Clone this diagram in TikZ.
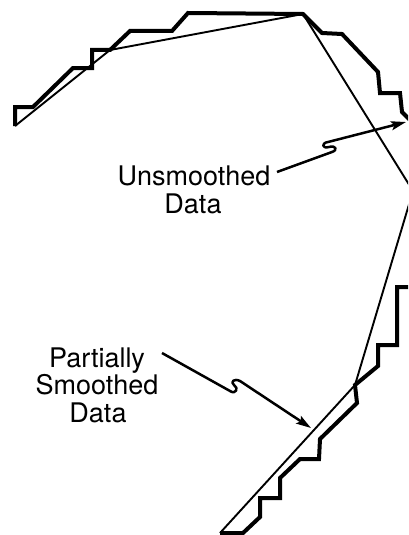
\documentclass[tikz,border=0pt]{standalone}
\usepackage{fontspec}
\setmainfont{TeX Gyre Heros}
\usetikzlibrary{arrows.meta}
\begin{document}
\begin{tikzpicture}[x=1pt,y=-1pt,
  rawdata/.style={line width=4pt, line join=miter, line cap=butt},
  fitline/.style={line width=1.9pt, line join=miter},
  callout/.style={line width=2.5pt, line join=round,
    -{Stealth[length=15pt,width=9pt,inset=3pt]}},
  lbl/.style={font=\fontsize{27}{28}\selectfont, anchor=base, inner sep=0pt}]
\useasboundingbox (0,0) rectangle (408,535);
\clip (0,0) rectangle (408,535);

% unsmoothed (staircase) data
\draw[rawdata] (15,126) -- (15,107) -- (33,107) -- (73,68) -- (92,68)
  -- (92,50) -- (110,50) -- (130,31) -- (172,31) -- (188,13) -- (303,14)
  -- (322,33) -- (342,34) -- (378,72) -- (380,93) -- (400,93) -- (402,112)
  -- (425,135) -- (425,287) -- (397,287) -- (397,345) -- (378,345)
  -- (378,366) -- (355,385) -- (357,403) -- (320,439) -- (319,459)
  -- (300,459) -- (280,478) -- (280,498) -- (260,498) -- (260,517)
  -- (243,533) -- (220,533);

% partially smoothed data
\draw[fitline] (15,126) -- (110,50) -- (303,14) -- (413,191)
  -- (355,385) -- (220,533);

% labels
\node[lbl] (u1) at (194,185) {Unsmoothed};
\node[lbl] (u2) at (193,213) {Data};
\node[lbl] (p1) at (97,367) {Partially};
\node[lbl] (p2) at (97,394) {Smoothed};
\node[lbl] (p3) at (98,422) {Data};

% callout arrows with a break
\coordinate (ustart) at (277,172);
\coordinate (utip) at (406,122);
\coordinate (pstart) at (162,353);
\coordinate (ptip) at (311,428);

\draw[callout] (ustart) -- (332,152)
  .. controls (338,150) and (336,145) .. (329,147)
  .. controls (322,149) and (321,143) .. (328,142) -- (utip);

\draw[callout] (pstart) -- (230,391)
  .. controls (236,395) and (239,388) .. (234,385)
  .. controls (230,382) and (234,378) .. (240,381) -- (ptip);
\end{tikzpicture}
\end{document}
